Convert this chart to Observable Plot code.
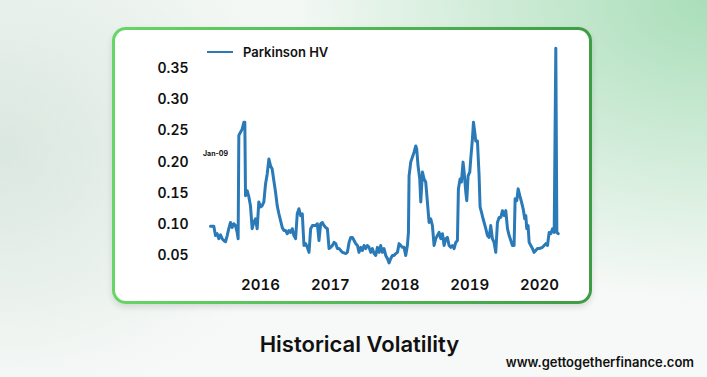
<!DOCTYPE html>
<html>
<head>
<meta charset="utf-8">
<script src="https://cdn.jsdelivr.net/npm/d3@7"></script>
<script src="https://cdn.jsdelivr.net/npm/@observablehq/plot@0.6"></script>
<style>
  html, body { margin: 0; padding: 0; }
  body {
    width: 707px; height: 377px; position: relative; overflow: hidden;
    font-family: Inter, "Open Sans", sans-serif;
    background:
      radial-gradient(ellipse 420px 300px at 100% 0%, rgba(120,205,145,0.6), rgba(120,205,145,0) 100%),
      radial-gradient(ellipse 300px 260px at 0% 40%, rgba(185,210,195,0.45), rgba(185,210,195,0) 100%),
      linear-gradient(180deg, #f4f8f5 0%, #f7f9f8 100%);
  }
  #card {
    position: absolute; left: 112px; top: 27px; width: 474px; height: 271px;
    border: 3px solid transparent; border-radius: 14px;
    background: linear-gradient(#fff, #fff) padding-box,
                linear-gradient(90deg, #68d568, #3e9c44) border-box;
    box-shadow: 0 3px 6px rgba(0,0,0,0.12);
  }
  #chart { position: absolute; left: 112px; top: 27px; }
  #legend { position: absolute; left: 207px; top: 44px; display: flex; align-items: center; }
  #legend .swatch { width: 26px; height: 0; border-top: 2px solid #2a7ab8; margin-right: 10px; }
  #legend .lab { font-size: 13px; font-weight: 600; color: #111; }
  #note { position: absolute; left: 203px; top: 149px; font-size: 7px; font-weight: 700; color: #111; }
  #title { position: absolute; left: 0; width: 719px; top: 331px; text-align: center; font-size: 22px; font-weight: 600; color: #111; }
  #site { position: absolute; right: 13px; top: 354px; font-size: 13px; font-weight: 600; color: #111; }
</style>
</head>
<body>
<div id="card"></div>
<div id="chart"></div>
<div id="legend"><div class="swatch"></div><div class="lab">Parkinson HV</div></div>
<div id="note">Jan-09</div>
<div id="title">Historical Volatility</div>
<div id="site">www.gettogetherfinance.com</div>
<script>
// Decimal years
const yearFrac = [
  2015.282, 2015.330, 2015.354, 2015.378, 2015.402, 2015.426, 2015.450, 2015.474, 2015.498, 2015.522,
  2015.545, 2015.569, 2015.593, 2015.617, 2015.641, 2015.665, 2015.679, 2015.689, 2015.713, 2015.737,
  2015.761, 2015.775, 2015.785, 2015.809, 2015.833, 2015.856, 2015.880, 2015.904, 2015.928, 2015.952,
  2015.976, 2016.000, 2016.024, 2016.048, 2016.072, 2016.096, 2016.120, 2016.144, 2016.167, 2016.191,
  2016.215, 2016.239, 2016.263, 2016.287, 2016.311, 2016.335, 2016.359, 2016.383, 2016.407, 2016.431,
  2016.455, 2016.478, 2016.502, 2016.526, 2016.550, 2016.574, 2016.598, 2016.622, 2016.646, 2016.670,
  2016.694, 2016.718, 2016.742, 2016.766, 2016.789, 2016.813, 2016.837, 2016.861, 2016.885, 2016.909,
  2016.933, 2016.957, 2016.981, 2017.005, 2017.029, 2017.053, 2017.077, 2017.100, 2017.124, 2017.148,
  2017.172, 2017.196, 2017.220, 2017.244, 2017.268, 2017.292, 2017.316, 2017.340, 2017.364, 2017.388,
  2017.411, 2017.435, 2017.459, 2017.483, 2017.507, 2017.531, 2017.555, 2017.579, 2017.603, 2017.627,
  2017.651, 2017.675, 2017.699, 2017.722, 2017.746, 2017.770, 2017.794, 2017.818, 2017.842, 2017.866,
  2017.890, 2017.914, 2017.938, 2017.962, 2017.986, 2018.010, 2018.033, 2018.057, 2018.081, 2018.105,
  2018.120, 2018.129, 2018.153, 2018.177, 2018.201, 2018.225, 2018.239, 2018.258, 2018.282, 2018.297,
  2018.321, 2018.344, 2018.368, 2018.392, 2018.416, 2018.440, 2018.464, 2018.488, 2018.512, 2018.536,
  2018.560, 2018.584, 2018.608, 2018.632, 2018.656, 2018.679, 2018.703, 2018.727, 2018.751, 2018.775,
  2018.799, 2018.823, 2018.837, 2018.861, 2018.880, 2018.904, 2018.919, 2018.943, 2018.957, 2018.976,
  2019.000, 2019.014, 2019.038, 2019.053, 2019.072, 2019.086, 2019.110, 2019.134, 2019.148, 2019.167,
  2019.191, 2019.206, 2019.230, 2019.254, 2019.278, 2019.301, 2019.325, 2019.349, 2019.373, 2019.397,
  2019.421, 2019.445, 2019.469, 2019.493, 2019.517, 2019.541, 2019.565, 2019.589, 2019.612, 2019.636,
  2019.651, 2019.675, 2019.694, 2019.718, 2019.742, 2019.766, 2019.789, 2019.804, 2019.818, 2019.837,
  2019.852, 2019.876, 2019.900, 2019.923, 2019.947, 2019.971, 2019.995, 2020.019, 2020.043, 2020.067,
  2020.091, 2020.115, 2020.139, 2020.163, 2020.187, 2020.211, 2020.234, 2020.249, 2020.268
];
// Parkinson historical volatility values
const parkinsonHV = [
  0.097, 0.097, 0.082, 0.085, 0.077, 0.083, 0.077, 0.074, 0.072, 0.082,
  0.093, 0.103, 0.095, 0.101, 0.098, 0.087, 0.077, 0.243, 0.248, 0.253,
  0.264, 0.264, 0.146, 0.154, 0.144, 0.130, 0.093, 0.103, 0.109, 0.093,
  0.136, 0.128, 0.130, 0.136, 0.165, 0.181, 0.205, 0.194, 0.189, 0.170,
  0.152, 0.130, 0.117, 0.106, 0.095, 0.090, 0.090, 0.085, 0.090, 0.087,
  0.093, 0.082, 0.077, 0.117, 0.125, 0.114, 0.117, 0.066, 0.069, 0.063,
  0.055, 0.093, 0.098, 0.098, 0.098, 0.101, 0.074, 0.101, 0.103, 0.098,
  0.095, 0.093, 0.061, 0.063, 0.066, 0.071, 0.069, 0.061, 0.061, 0.058,
  0.055, 0.054, 0.053, 0.055, 0.071, 0.079, 0.079, 0.074, 0.069, 0.066,
  0.055, 0.063, 0.058, 0.066, 0.061, 0.066, 0.063, 0.055, 0.061, 0.053,
  0.050, 0.063, 0.055, 0.066, 0.055, 0.061, 0.050, 0.045, 0.038, 0.045,
  0.050, 0.050, 0.053, 0.055, 0.069, 0.066, 0.063, 0.063, 0.050, 0.066,
  0.087, 0.178, 0.200, 0.208, 0.216, 0.226, 0.221, 0.194, 0.173, 0.136,
  0.184, 0.173, 0.168, 0.136, 0.103, 0.109, 0.098, 0.066, 0.077, 0.082,
  0.087, 0.077, 0.085, 0.066, 0.077, 0.079, 0.066, 0.063, 0.066, 0.061,
  0.071, 0.074, 0.157, 0.173, 0.168, 0.200, 0.184, 0.152, 0.138, 0.178,
  0.184, 0.205, 0.237, 0.264, 0.248, 0.234, 0.234, 0.178, 0.128, 0.120,
  0.109, 0.103, 0.093, 0.082, 0.079, 0.098, 0.077, 0.071, 0.055, 0.103,
  0.111, 0.111, 0.122, 0.114, 0.122, 0.093, 0.082, 0.074, 0.066, 0.066,
  0.141, 0.138, 0.157, 0.146, 0.136, 0.125, 0.109, 0.114, 0.093, 0.098,
  0.071, 0.066, 0.061, 0.055, 0.058, 0.061, 0.061, 0.062, 0.063, 0.066,
  0.069, 0.066, 0.087, 0.085, 0.093, 0.087, 0.383, 0.087, 0.085
];
const yTickValues = [0.05, 0.10, 0.15, 0.20, 0.25, 0.30, 0.35];
const xTickYears = [2016, 2017, 2018, 2019, 2020];

function fromYearFrac(t) {
  const y = Math.floor(t);
  const s = Date.UTC(y, 0, 1), e = Date.UTC(y + 1, 0, 1);
  return new Date(s + (t - y) * (e - s));
}
const data = yearFrac.map((t, i) => ({date: fromYearFrac(t), hv: parkinsonHV[i]}));
const xTicks = xTickYears.map(y => new Date(Date.UTC(y, 0, 1)));
const blue = "#2a7ab8";

const chart = Plot.plot({
  width: 480,
  height: 277,
  marginLeft: 95.5,
  marginRight: 33,
  marginTop: 16.4,
  marginBottom: 36.6,
  style: {background: "transparent", fontFamily: "Inter, 'Open Sans', sans-serif", color: "#111", overflow: "visible"},
  x: {type: "utc", domain: [new Date(Date.UTC(2015, 3, 1)), new Date(Date.UTC(2020, 3, 15))]},
  y: {domain: [0.03, 0.39]},
  marks: [
    Plot.axisY({ticks: yTickValues, tickFormat: d3.format(".2f"), tickSize: 0, tickPadding: 19.5,
      fontSize: 14, fontWeight: 600, label: null}),
    Plot.axisX({ticks: xTicks, tickFormat: d3.utcFormat("%Y"), tickSize: 0, tickPadding: 11.6,
      fontSize: 15, fontWeight: 600, label: null}),
    Plot.line(data, {x: "date", y: "hv", stroke: blue, strokeWidth: 3, strokeLinejoin: "round", strokeLinecap: "round"})
  ]
});
document.getElementById("chart").appendChild(chart);
</script>
</body>
</html>
